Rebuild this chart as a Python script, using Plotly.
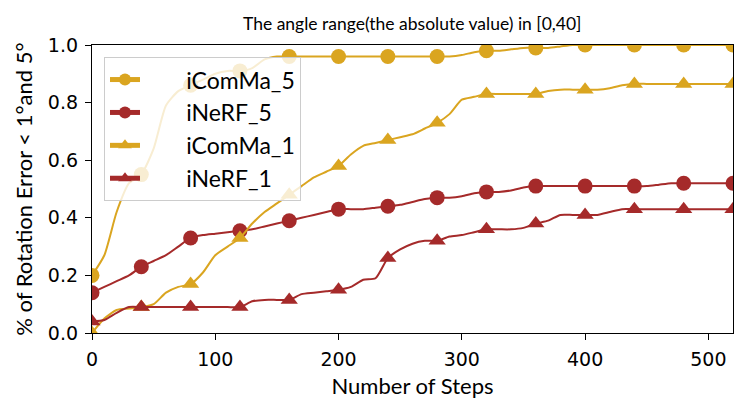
"""
Rotation error success rate vs number of steps, angle range [0,40]
"""
import plotly.graph_objects as go

# steps sampled every 10; markers every 40
steps = list(range(0, 530, 10))
marker_steps = list(range(0, 530, 40))

icomma_5 = [0.20, 0.27, 0.42, 0.52, 0.55, 0.64, 0.79, 0.84, 0.86, 0.88,
            0.90, 0.91, 0.91, 0.92, 0.95, 0.96, 0.96, 0.96, 0.96, 0.96,
            0.96, 0.96, 0.96, 0.96, 0.96, 0.96, 0.96, 0.96, 0.96, 0.96,
            0.965, 0.975, 0.98, 0.98, 0.985, 0.99, 0.99, 0.99, 0.995, 1.0,
            1.0, 1.0, 1.0, 1.0, 1.0, 1.0, 1.0, 1.0, 1.0, 1.0,
            1.0, 1.0, 1.0]
inerf_5 = [0.14, 0.16, 0.18, 0.20, 0.23, 0.25, 0.27, 0.30, 0.33, 0.34,
           0.345, 0.35, 0.355, 0.36, 0.37, 0.38, 0.39, 0.40, 0.41, 0.42,
           0.43, 0.43, 0.43, 0.435, 0.44, 0.445, 0.455, 0.465, 0.47, 0.47,
           0.475, 0.485, 0.49, 0.49, 0.495, 0.505, 0.51, 0.51, 0.51, 0.51,
           0.51, 0.51, 0.51, 0.51, 0.51, 0.51, 0.515, 0.52, 0.52, 0.52,
           0.52, 0.52, 0.52]
icomma_1 = [0.0, 0.05, 0.08, 0.085, 0.09, 0.10, 0.14, 0.16, 0.17, 0.21,
            0.27, 0.30, 0.33, 0.38, 0.42, 0.45, 0.48, 0.51, 0.54, 0.56,
            0.58, 0.62, 0.65, 0.66, 0.67, 0.68, 0.69, 0.71, 0.73, 0.76,
            0.81, 0.82, 0.83, 0.83, 0.83, 0.83, 0.83, 0.84, 0.845, 0.845,
            0.845, 0.845, 0.85, 0.86, 0.865, 0.865, 0.865, 0.865, 0.865, 0.865,
            0.865, 0.865, 0.865]
inerf_1 = [0.04, 0.045, 0.07, 0.09, 0.09, 0.09, 0.09, 0.09, 0.09, 0.09,
           0.09, 0.09, 0.09, 0.11, 0.115, 0.115, 0.115, 0.135, 0.14, 0.145,
           0.15, 0.16, 0.185, 0.19, 0.26, 0.29, 0.31, 0.32, 0.32, 0.335,
           0.34, 0.35, 0.36, 0.36, 0.36, 0.365, 0.38, 0.39, 0.41, 0.41,
           0.41, 0.41, 0.42, 0.43, 0.43, 0.43, 0.43, 0.43, 0.43, 0.43,
           0.43, 0.43, 0.43]

series = [
    ("iComMa_5", icomma_5, "#DAA520", "circle", 15),
    ("iNeRF_5", inerf_5, "#A52A2A", "circle", 15),
    ("iComMa_1", icomma_1, "#DAA520", "triangle-up", 15),
    ("iNeRF_1", inerf_1, "#A52A2A", "triangle-up", 15),
]

# padding so the legend text sits where the reference has it
pad_left = "\u00a0" * 7

fig = go.Figure()
for name, vals, color, symbol, msize in series:
    # only show a marker every 40 steps
    sizes = [msize if s in marker_steps else 0 for s in steps]
    fig.add_trace(go.Scatter(
        x=steps, y=vals, name=pad_left + name, mode="lines+markers",
        line=dict(color=color, width=2, shape="spline", smoothing=0.6),
        marker=dict(color=color, symbol=symbol, size=sizes, opacity=1, line=dict(width=0)),
    ))

axis_common = dict(
    showline=True, linecolor="black", linewidth=1.3, mirror=True,
    ticks="outside", ticklen=6, tickcolor="black", tickwidth=1.3,
    ticklabelstandoff=3,
    showgrid=False, zeroline=False, automargin=False,
    tickfont=dict(family="DejaVu Sans", size=19, color="black"),
)

fig.update_xaxes(range=[0, 520], tickvals=[0, 100, 200, 300, 400, 500],
                 title=dict(text="Number of Steps", standoff=9,
                            font=dict(family="Lato", size=22, color="black")),
                 **axis_common)
fig.update_yaxes(range=[0, 1.0], tickvals=[0, 0.2, 0.4, 0.6, 0.8, 1.0], tickformat=".1f",
                 title=dict(text="% of Rotation Error < 1°and 5°", standoff=9,
                            font=dict(family="Lato", size=22, color="black")),
                 **axis_common)

# page body has an 8px margin, so the figure is 8px smaller than the window
fig.update_layout(
    width=739, height=406,
    margin=dict(l=84, r=14, t=37, b=81),
    paper_bgcolor="white", plot_bgcolor="white",
    title=dict(text="The angle range(the absolute value) in [0,40]",
               x=0.547, xanchor="center", y=0.962, yanchor="middle",
               font=dict(family="Lato", size=17.5, color="black")),
    legend=dict(x=0.0187, y=0.958, xanchor="left", yanchor="top",
                bgcolor="rgba(255,255,255,0.8)", bordercolor="#cccccc", borderwidth=1,
                itemsizing="constant",
                font=dict(family="Lato", size=23, color="black")),
    showlegend=True,
)

fig.write_html("out.html")
